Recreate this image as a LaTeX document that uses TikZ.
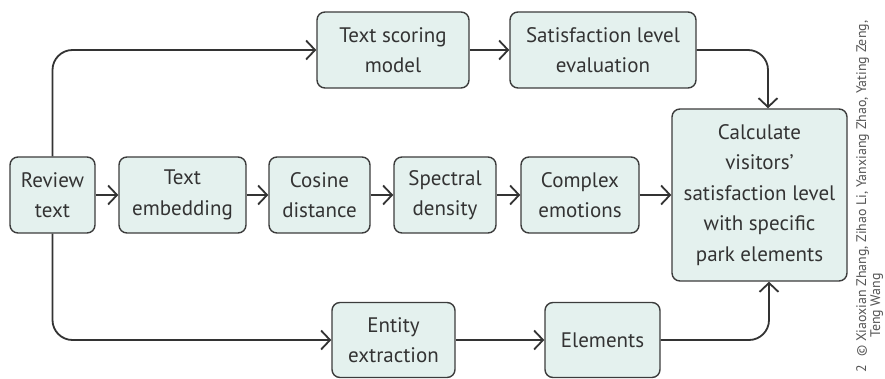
\documentclass[tikz,border=0pt]{standalone}
\usepackage{fontspec}
\setmainfont{PT Sans}
\usetikzlibrary{arrows.meta}
\definecolor{boxfill}{RGB}{228,241,238}
\definecolor{boxline}{RGB}{60,60,60}
\definecolor{ink}{RGB}{51,51,51}
\definecolor{note}{RGB}{85,85,85}
\tikzset{
  stage/.style={draw=boxline, fill=boxfill, line width=1.4pt, rounded corners=8pt,
    inner sep=0pt, align=center, text=ink, minimum height=76pt,
    font=\fontsize{21}{30.5}\selectfont},
  conn/.style={draw=ink, line width=1.8pt, rounded corners=20pt,
    -{Straight Barb[length=9pt,width=19pt]}},
  credit/.style={rotate=90, anchor=base west, inner sep=0pt, text=note,
    font=\fontsize{13.9}{15}\selectfont}
}
\begin{document}
\begin{tikzpicture}[x=1pt, y=-1pt]
\useasboundingbox (0,0) rectangle (885,379);

% processing stages
\node[stage, minimum width=152pt] (ts)   at (393,50)    {Text scoring\\model};
\node[stage, minimum width=186pt] (sat)  at (603,50)    {Satisfaction level\\evaluation};
\node[stage, minimum width=85pt]  (rev)  at (52.5,195)  {Review\\text};
\node[stage, minimum width=127pt] (emb)  at (182.5,195) {Text\\embedding};
\node[stage, minimum width=101pt] (cos)  at (319.5,195) {Cosine\\distance};
\node[stage, minimum width=102pt] (spec) at (445,195)   {Spectral\\density};
\node[stage, minimum width=118pt] (cplx) at (580,195)   {Complex\\emotions};
\node[stage, minimum width=175pt, minimum height=172pt] (calc) at (759.5,195)
  {Calculate\\visitors'\\satisfaction level\\with specific\\park elements};
\node[stage, minimum width=123pt, minimum height=75pt] (ent)  at (393.5,340) {Entity\\extraction};
\node[stage, minimum width=115pt, minimum height=75pt] (elem) at (602.5,340) {Elements};

% connectors
\draw[conn] (rev.north) |- (ts.west);
\draw[conn] (rev.south) |- (ent.west);
\draw[conn] (ts) -- (sat);
\draw[conn] (rev) -- (emb);
\draw[conn] (emb) -- (cos);
\draw[conn] (cos) -- (spec);
\draw[conn] (spec) -- (cplx);
\draw[conn] (cplx) -- (calc);
\draw[conn] (ent) -- (elem);
\draw[conn] (sat.east) -| ([xshift=8.5pt]calc.north);
\draw[conn] (elem.east) -| ([xshift=9.5pt]calc.south);

% credit line
\node[credit] (cr1) at (866,357) {© Xiaoxian Zhang, Zihao Li, Yanxiang Zhao, Yating Zeng,};
\node[credit] (cr2) at (880,338) {Teng Wang};
\node[credit] (cr3) at (866,373) {2};
\end{tikzpicture}
\end{document}
